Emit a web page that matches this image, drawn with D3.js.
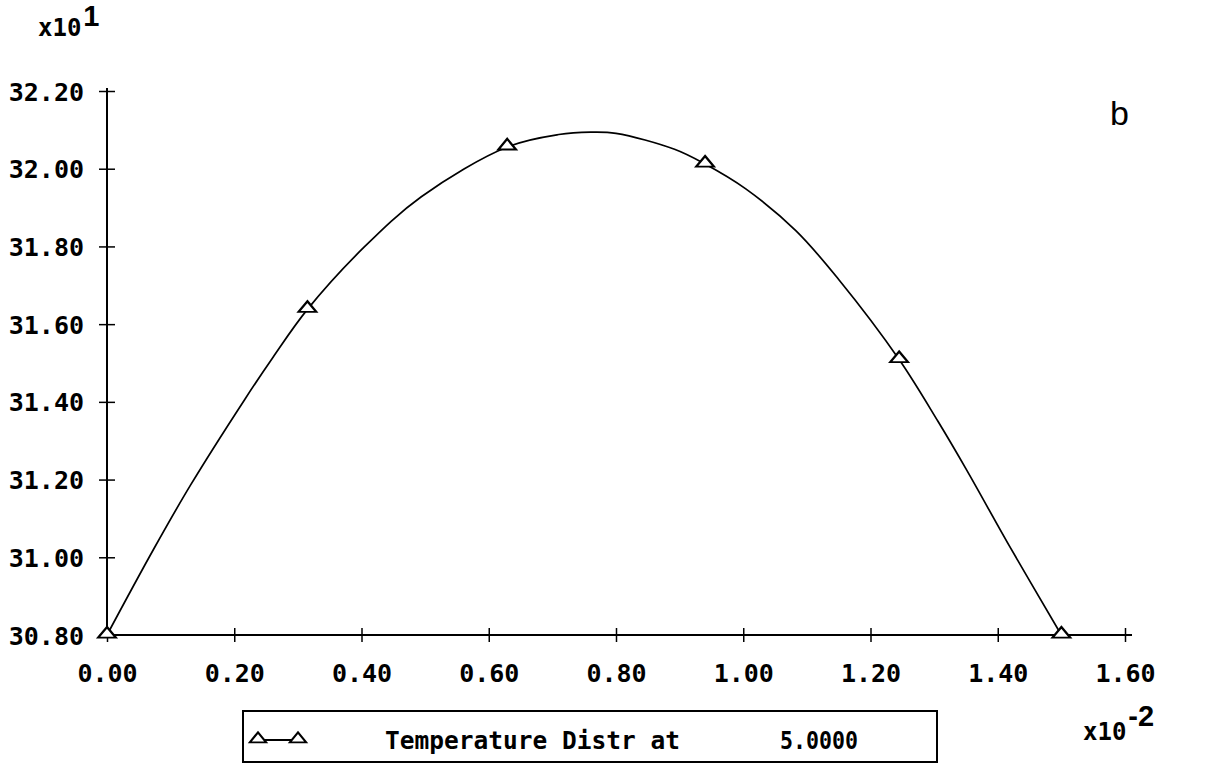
<!DOCTYPE html>
<html><head><meta charset="utf-8">
<script src="https://cdn.jsdelivr.net/npm/d3@7"></script>
<style>
html,body{margin:0;padding:0;background:#fff;}
svg{display:block;}
</style></head>
<body>
<svg id="chart" width="1232" height="764"></svg>
<script>
// ---- data (x in units of 1e-2, y in units of 1e1) ----
const xTicks = [0.00, 0.20, 0.40, 0.60, 0.80, 1.00, 1.20, 1.40, 1.60];
const yTicks = [30.80, 31.00, 31.20, 31.40, 31.60, 31.80, 32.00, 32.20];
const markerX = [0.000, 0.315, 0.629, 0.940, 1.245, 1.500];
const markerY = [30.800, 31.638, 32.056, 32.012, 31.509, 30.800];
const curveX = [0.000, 0.073, 0.131, 0.216, 0.261, 0.315, 0.404, 0.494, 0.629, 0.710, 0.760, 0.800, 0.892, 0.940, 1.004, 1.083, 1.150, 1.245, 1.306, 1.351, 1.418, 1.500];
const curveY = [30.800, 31.020, 31.185, 31.405, 31.515, 31.638, 31.798, 31.928, 32.056, 32.088, 32.094, 32.091, 32.050, 32.012, 31.948, 31.840, 31.715, 31.509, 31.350, 31.225, 31.030, 30.800];
const legendLabel = "Temperature Distr at";
const legendValue = "5.0000";
const panelTag = "b";

const svg = d3.select("#chart");
const monoFont = "'DejaVu Sans Mono', 'Liberation Mono', monospace";
const sansFont = "'Liberation Sans', Arial, sans-serif";

const x = d3.scaleLinear().domain([0, 1.6]).range([107, 1125]);
const y = d3.scaleLinear().domain([30.8, 32.2]).range([635, 91]);

// y axis
const yAxis = svg.append("g").attr("transform", `translate(${x(0)},0)`)
  .call(d3.axisLeft(y).tickValues(yTicks).tickFormat(d3.format(".2f")).tickSize(8).tickPadding(15));
yAxis.select(".domain").attr("d", `M0,${y(32.2) - 3}V${y(30.8)}`).attr("stroke", "#000").attr("stroke-width", 2);
yAxis.selectAll(".tick line").attr("x1", -8).attr("x2", 8).attr("stroke", "#000").attr("stroke-width", 1.5);
yAxis.selectAll(".tick text").attr("font-family", monoFont).attr("font-weight", "bold")
  .attr("font-size", 25).attr("fill", "#000").attr("dy", "0.36em");

// x axis
const xAxis = svg.append("g").attr("transform", `translate(0,${y(30.8)})`)
  .call(d3.axisBottom(x).tickValues(xTicks).tickFormat(d3.format(".2f")).tickSize(7).tickPadding(22));
xAxis.select(".domain").attr("d", `M${x(0)},0H${x(1.6) + 7}`).attr("stroke", "#000").attr("stroke-width", 2);
xAxis.selectAll(".tick line").attr("y1", -7).attr("y2", 7).attr("stroke", "#000").attr("stroke-width", 1.5);
xAxis.selectAll(".tick text").attr("font-family", monoFont).attr("font-weight", "bold")
  .attr("font-size", 25).attr("fill", "#000");

// exponent labels
const yExp = svg.append("text").attr("x", 38).attr("y", 36)
  .attr("font-family", monoFont).attr("font-weight", "bold").attr("font-size", 24).attr("fill", "#000");
yExp.append("tspan").text("x10");
yExp.append("tspan").attr("dx", 2).attr("dy", -10).attr("font-size", 29).attr("font-family", sansFont).text("1");

const xExp = svg.append("text").attr("x", 1083).attr("y", 740)
  .attr("font-family", monoFont).attr("font-weight", "bold").attr("font-size", 24).attr("fill", "#000");
xExp.append("tspan").text("x10");
xExp.append("tspan").attr("dx", 2).attr("dy", -14).attr("font-size", 29).attr("font-family", sansFont).text("-2");

// curve
const pts = curveX.map((d, i) => [d, curveY[i]]);
svg.append("path").datum(pts)
  .attr("d", d3.line().x(d => x(d[0])).y(d => y(d[1])).curve(d3.curveCatmullRom.alpha(0.5)))
  .attr("fill", "none").attr("stroke", "#000").attr("stroke-width", 1.7);

// markers
const tri = d3.symbol().type(d3.symbolTriangle).size(80);
svg.append("g").selectAll("path").data(markerX.map((d, i) => [d, markerY[i]])).join("path")
  .attr("d", tri)
  .attr("transform", d => `translate(${x(d[0])},${y(d[1]) - 1}) scale(1.3,0.9)`)
  .attr("fill", "#fff").attr("stroke", "#000").attr("stroke-width", 2);

// panel tag
svg.append("text").attr("x", 1110).attr("y", 125).attr("font-family", sansFont)
  .attr("font-size", 34).attr("fill", "#000").text(panelTag);

// legend
const lg = svg.append("g");
lg.append("rect").attr("x", 243).attr("y", 711).attr("width", 694).attr("height", 51)
  .attr("fill", "none").attr("stroke", "#000").attr("stroke-width", 2);
lg.append("line").attr("x1", 258).attr("x2", 298).attr("y1", 740).attr("y2", 740).attr("stroke", "#000").attr("stroke-width", 2);
[258, 298].forEach(px => {
  lg.append("path").attr("d", tri).attr("transform", `translate(${px},739) scale(1.2,0.85)`)
    .attr("fill", "#fff").attr("stroke", "#000").attr("stroke-width", 2);
});
lg.append("text").attr("x", 385).attr("y", 749).attr("font-family", monoFont).attr("font-weight", "bold")
  .attr("font-size", 25).attr("fill", "#000").attr("textLength", 295).attr("lengthAdjust", "spacingAndGlyphs").text(legendLabel);
lg.append("text").attr("x", 780).attr("y", 749).attr("font-family", monoFont).attr("font-weight", "bold")
  .attr("font-size", 25).attr("fill", "#000").attr("textLength", 78).attr("lengthAdjust", "spacingAndGlyphs").text(legendValue);
</script>
</body></html>
